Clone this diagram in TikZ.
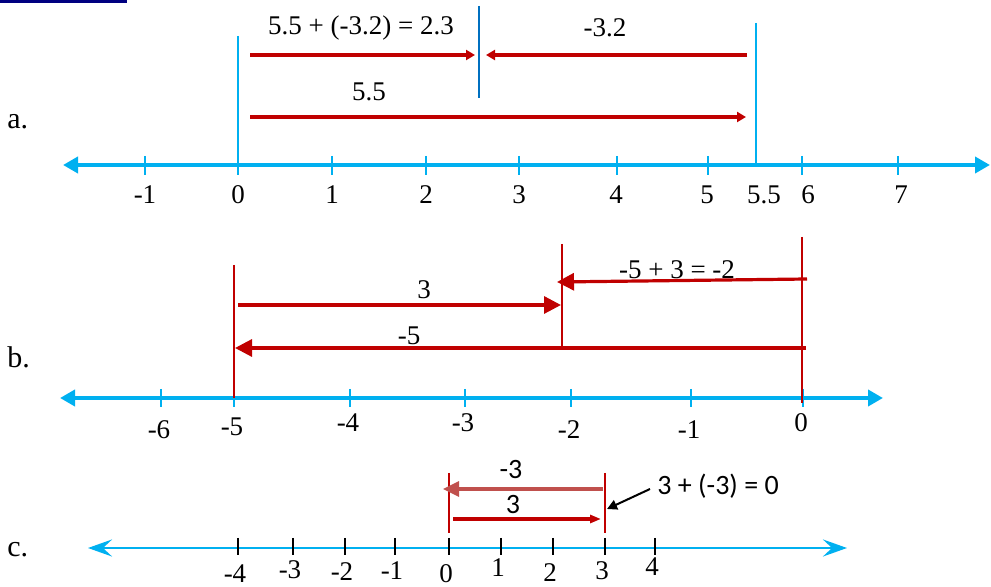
\documentclass[tikz,border=0pt]{standalone}
\usepackage{fontspec}
\setmainfont{Liberation Serif}
\newfontfamily\calibri{Carlito}
\usetikzlibrary{arrows.meta, positioning, calc}
\definecolor{axisblue}{HTML}{00B0F0}
\definecolor{midblue}{HTML}{0070C0}
\definecolor{darkred}{HTML}{C00000}
\definecolor{softred}{HTML}{C0504D}
\definecolor{barnavy}{HTML}{000080}
\tikzset{
  axis/.style={axisblue, line width=2pt,
               {Triangle[length=7.5pt, width=8pt]}-{Triangle[length=7.5pt, width=8pt]}},
  axisc/.style={axisblue, line width=1.4pt,
               {Stealth[length=12pt, width=8.5pt, inset=4.5pt]}-{Stealth[length=12pt, width=8.5pt, inset=4.5pt]}},
  tck/.style={axisblue, line width=1.2pt},
  tckc/.style={black, line width=1pt},
  num/.style={font=\fontsize{13.5}{15}\selectfont, inner sep=0pt},
  sans/.style={font=\calibri\fontsize{14}{16}\selectfont, inner sep=0pt},
  part/.style={font=\fontsize{15}{18}\selectfont, anchor=west, inner sep=0pt},
  guide/.style={axisblue, line width=1pt},
  redline/.style={darkred, line width=1.1pt},
  arc/.style={darkred, line width=1.6pt, -{Triangle[length=4.5pt, width=5pt]}},
  arcb/.style={darkred, line width=1.6pt, -{Triangle[length=8.5pt, width=8.5pt]}},
  pointer/.style={black, line width=1pt, -{Triangle[length=5pt, width=5pt]}}
}
\begin{document}
\begin{tikzpicture}[x=0.5pt, y=-0.5pt]
  \useasboundingbox (0,0) rectangle (991,587);
  \fill[barnavy] (0,0) rectangle (127,3);

  % ---- a ----
  \node[part] (pa) at (7,122) {a.};
  \coordinate (aL) at (63,165);
  \coordinate (aR) at (990,165);
  \draw[axis] (aL) -- (aR);
  \foreach \x/\t/\lx [count=\i] in {145/-1/145, 238/0/238, 332/1/332, 426/2/426, 519/3/519,
                                    617/4/616, 708/5/707, 802/6/808, 898/7/901} {
    \draw[tck] (\x,156) -- (\x,175);
    \node[num] (ta\i) at (\lx,195) {\t};
  }
  \node[num] (ta55) at (764,195) {5.5};
  \draw[guide] (238,36) -- (238,165);
  \draw[guide] (756,23) -- (756,165);
  \draw[midblue, line width=1pt] (479,6) -- (479,98);
  \coordinate (s1) at (250,55);  \coordinate (s2) at (475,55);
  \coordinate (m1) at (747,55);  \coordinate (m2) at (486,55);
  \coordinate (p1) at (250,117); \coordinate (p2) at (746,117);
  \draw[arc] (s1) -- (s2);
  \draw[arc] (m1) -- (m2);
  \draw[arc] (p1) -- (p2);
  \node[num] (sum) at (361,28) {5.5 + (-3.2) = 2.3};
  \node[num] (neg) at (605,28) {-3.2};
  \node[num] (pos) at (369,92) {5.5};

  % ---- b ----
  \node[part] (pb) at (7,357) {b.};
  \coordinate (bL) at (60,398);
  \coordinate (bR) at (883,398);
  \draw[axis] (bL) -- (bR);
  \foreach \x/\t/\ly [count=\i] in {161/-6/430, 234/-5/427, 350/-4/423, 465/-3/423,
                                    571/-2/430, 691/-1/430, 803/0/423} {
    \draw[tck] (\x,389) -- (\x,407);
    \node[num] (tb\i) at (\x-2,\ly) {\t};
  }
  \draw[redline] (234,265) -- (234,398);
  \draw[redline] (562,244) -- (562,348);
  \draw[redline] (802,237) -- (802,403);
  \coordinate (t1) at (238,305); \coordinate (t2) at (561,305);
  \coordinate (f1) at (806,348); \coordinate (f2) at (235,348);
  \coordinate (r1) at (807,279); \coordinate (r2) at (557,282);
  \draw[arcb] (t1) -- (t2);
  \draw[arcb] (f1) -- (f2);
  \draw[arcb] (r1) -- (r2);
  \node[num] (three) at (424,290) {3};
  \node[num] (five) at (409,336) {-5};
  \node[num] (res) at (677,270) {-5 + 3 = -2};

  % ---- c ----
  \node[part] (pc) at (7,550) {c.};
  \coordinate (cL) at (88,548);
  \coordinate (cR) at (847,548);
  \draw[axisc] (cL) -- (cR);
  \foreach \x/\t/\ly [count=\i] in {238/-4/574, 293/-3/570, 345/-2/572, 395/-1/571, 449/0/574,
                                    501/1/568, 553/2/573, 605/3/571, 655/4/567} {
    \draw[tckc] (\x,538) -- (\x,555);
    \node[num] (tc\i) at (\x-3,\ly) {\t};
  }
  \draw[redline] (449,473) -- (449,533);
  \draw[redline] (605,473) -- (605,533);
  \coordinate (n1) at (603,489); \coordinate (n2) at (443,489);
  \coordinate (q1) at (453,519); \coordinate (q2) at (601,519);
  \draw[softred, line width=1.6pt, -{Triangle[length=8pt, width=7.5pt]}] (n1) -- (n2);
  \draw[darkred, line width=1.6pt, -{Triangle[length=5.5pt, width=4pt]}] (q1) -- (q2);
  \node[sans] (mthree) at (511,470) {-3};
  \node[sans] (pthree) at (513,505) {3};
  \node[sans, anchor=west] (zero) at (657,486) {3 + (-3) = 0};
  \coordinate (k1) at (650,489);
  \coordinate (k2) at (607,509);
  \draw[pointer] (k1) -- (k2);
\end{tikzpicture}
\end{document}
